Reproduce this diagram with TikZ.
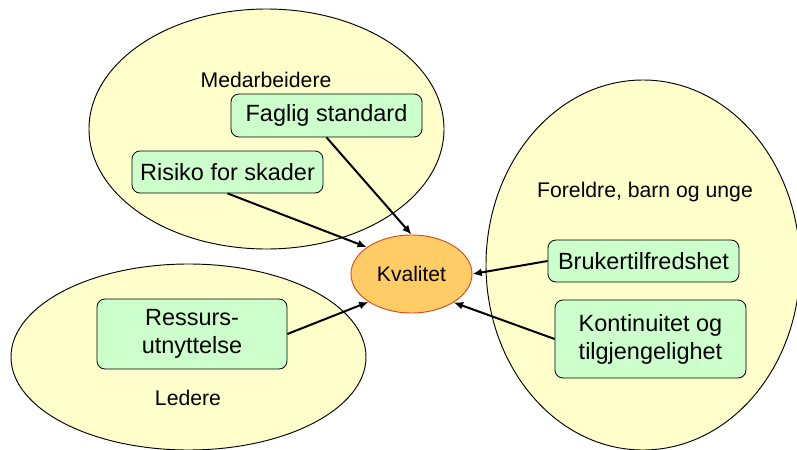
\documentclass[tikz,border=0pt]{standalone}
\usepackage{fontspec}
\setmainfont{Liberation Sans}
\usetikzlibrary{shapes.geometric,arrows.meta}
\definecolor{groupfill}{HTML}{FFFFCC}
\definecolor{boxfill}{HTML}{CCFFCC}
\definecolor{kvalfill}{HTML}{FFCC66}
\definecolor{kvalline}{HTML}{D94A1A}
\tikzset{
  group/.style={ellipse, draw=black, line width=0.7pt, fill=groupfill, inner sep=0pt},
  grouplabel/.style={font=\fontsize{15.9}{19}\selectfont, inner sep=0pt},
  factor/.style={rectangle, rounded corners=6pt, draw=black, line width=0.6pt, fill=boxfill,
    inner sep=0pt, minimum width=143.25pt, align=center,
    font=\fontsize{17.6}{21}\selectfont},
  core/.style={ellipse, draw=kvalline, line width=0.7pt, fill=kvalfill, inner sep=0pt,
    minimum width=90.75pt, minimum height=58.5pt, font=\fontsize{15.8}{19}\selectfont},
  link/.style={line width=1.5pt, -{Latex[length=7pt,width=6pt]}}
}
\begin{document}
\begin{tikzpicture}[x=0.75pt,y=-0.75pt]
\useasboundingbox (0,0) rectangle (797,450);
\clip (0,0) rectangle (797,450);
% groups
\node[group, minimum width=266.25pt, minimum height=180pt] (gmed) at (266.5,129) {};
\node[group, minimum width=266.25pt, minimum height=139.5pt] (gled) at (188.5,357) {};
\node[group, minimum width=235.5pt, minimum height=277.5pt] (gfor) at (643,265) {};
% group labels
\node[grouplabel] (lmed) at (266,80) {Medarbeidere};
\node[grouplabel] (lfor) at (645,192) {Foreldre, barn og unge};
\node[grouplabel] (lled) at (188,398) {Ledere};
% factors
\node[factor, minimum height=32.25pt] (faglig) at (326.5,115.5) {Faglig standard};
\node[factor, minimum height=31.5pt] (risiko) at (227.5,172) {Risiko for skader};
\node[factor, minimum height=31.5pt] (bruker) at (643.5,261) {Brukertilfredshet};
\node[factor, minimum height=58.5pt] (kont) at (650.5,339) {Kontinuitet og\\tilgjengelighet};
\node[factor, minimum width=142.5pt, minimum height=52.5pt] (ress) at (192,334) {Ressurs-\\utnyttelse};
% core
\node[core] (kval) at (411.5,274) {Kvalitet};
% links
\draw[link] (faglig.south) -- (kval.north);
\draw[link] (risiko.south) -- (kval.149);
\draw[link] (ress.east) -- (kval.213);
\draw[link] (bruker.west) -- (kval.east);
\draw[link] (kont.west) -- (kval.326);
\end{tikzpicture}
\end{document}
